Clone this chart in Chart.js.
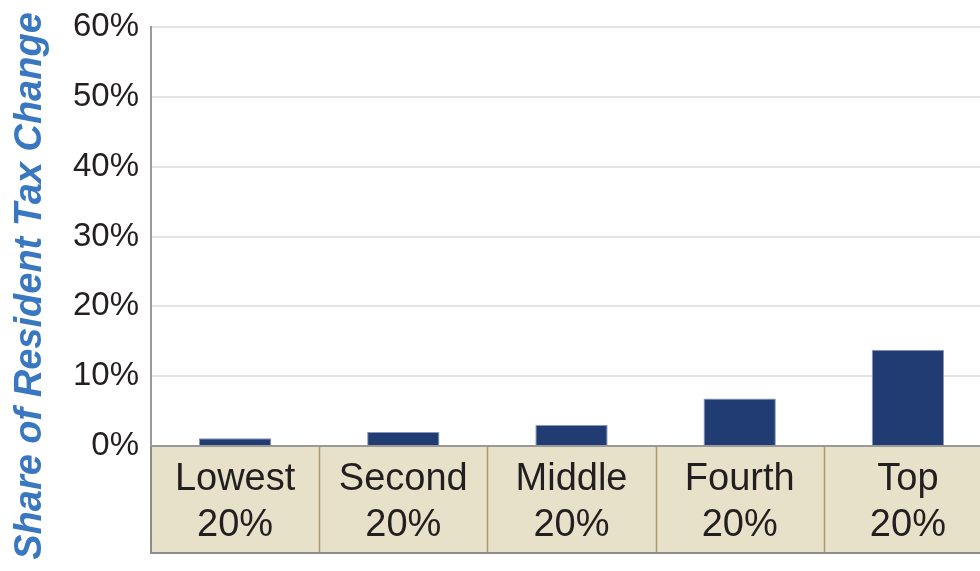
<!DOCTYPE html>
<html lang="en">
<head>
    <meta charset="UTF-8">
    <title>Share of Resident Tax Change</title>
    <style>
        html, body {
            margin: 0;
            padding: 0;
            background: #fff;
            overflow: hidden;
        }
        .wrap {
            width: 992px;
            height: 571px;
        }
    </style>
</head>
<body>
    <div class="wrap">
        <canvas id="taxChart"></canvas>
    </div>

    <script src="https://cdn.jsdelivr.net/npm/chart.js"></script>
    <script>
        const groups = [['Lowest', '20%'], ['Second', '20%'], ['Middle', '20%'], ['Fourth', '20%'], ['Top', '20%']];
        const shares = [1.1, 2.0, 3.0, 6.8, 13.8];
        const yTicks = [0, 10, 20, 30, 40, 50, 60];
        const yTitle = 'Share of Resident Tax Change';

        const FONT = "'Liberation Sans', Arial, sans-serif";
        const TABLE_H = 107;

        // beige label table under the axis + rotated axis title
        const tablePlugin = {
            id: 'table',
            beforeDraw(chart) {
                const { ctx, chartArea, scales } = chart;
                const x = scales.x;
                const top = chartArea.bottom;
                const half = (x.getPixelForValue(1) - x.getPixelForValue(0)) / 2;
                ctx.save();
                ctx.fillStyle = '#e8e1c9';
                ctx.fillRect(chartArea.left, top, chartArea.right - chartArea.left, TABLE_H);
                ctx.strokeStyle = '#a8976f';
                ctx.lineWidth = 1.5;
                for (let i = 1; i < groups.length; i++) {
                    const px = Math.round(x.getPixelForValue(i) - half) + 0.5;
                    ctx.beginPath();
                    ctx.moveTo(px, top);
                    ctx.lineTo(px, top + TABLE_H);
                    ctx.stroke();
                }
                ctx.strokeStyle = '#8c8c8c';
                ctx.lineWidth = 2;
                ctx.beginPath();
                ctx.moveTo(chartArea.left, top + TABLE_H);
                ctx.lineTo(chartArea.right, top + TABLE_H);
                ctx.stroke();
                ctx.beginPath();
                ctx.moveTo(chartArea.left, top);
                ctx.lineTo(chartArea.left, top + TABLE_H + 1);
                ctx.stroke();
                ctx.restore();
            },
            afterDraw(chart) {
                const ctx = chart.ctx;
                ctx.save();
                ctx.translate(31, 286);
                ctx.rotate(-Math.PI / 2);
                ctx.font = 'italic bold 38px ' + FONT;
                ctx.fillStyle = '#3a77c1';
                ctx.textAlign = 'center';
                ctx.textBaseline = 'middle';
                ctx.fillText(yTitle, 0, 0);
                ctx.restore();
            }
        };

        const ctx = document.getElementById('taxChart').getContext('2d');
        new Chart(ctx, {
            type: 'bar',
            data: {
                labels: groups,
                datasets: [{
                    data: shares,
                    backgroundColor: '#203c72',
                    borderColor: '#8697bb',
                    borderWidth: 1,
                    categoryPercentage: 1,
                    barPercentage: 0.43
                }]
            },
            options: {
                responsive: true,
                maintainAspectRatio: false,
                animation: false,
                layout: { padding: { top: 27, bottom: 18, right: 0, left: 0 } },
                plugins: {
                    legend: { display: false },
                    tooltip: { enabled: false }
                },
                scales: {
                    x: {
                        grid: { display: false },
                        border: { color: '#999', width: 2 },
                        ticks: {
                            color: '#231f20',
                            font: { family: FONT, size: 38, lineHeight: 1.22 },
                            padding: 2,
                            maxRotation: 0,
                            autoSkip: false
                        },
                        afterFit(scale) { scale.height = TABLE_H; }
                    },
                    y: {
                        min: 0,
                        max: 60,
                        afterBuildTicks(scale) { scale.ticks = yTicks.map(v => ({ value: v })); },
                        grid: { color: '#e4e4e4', lineWidth: 2, drawTicks: false },
                        border: { color: '#999', width: 2 },
                        ticks: {
                            color: '#231f20',
                            font: { family: FONT, size: 33, lineHeight: 0.8 },
                            padding: 12,
                            callback: v => v + '%'
                        },
                        afterFit(scale) { scale.width = 151; }
                    }
                }
            },
            plugins: [tablePlugin]
        });
    </script>
</body>
</html>
